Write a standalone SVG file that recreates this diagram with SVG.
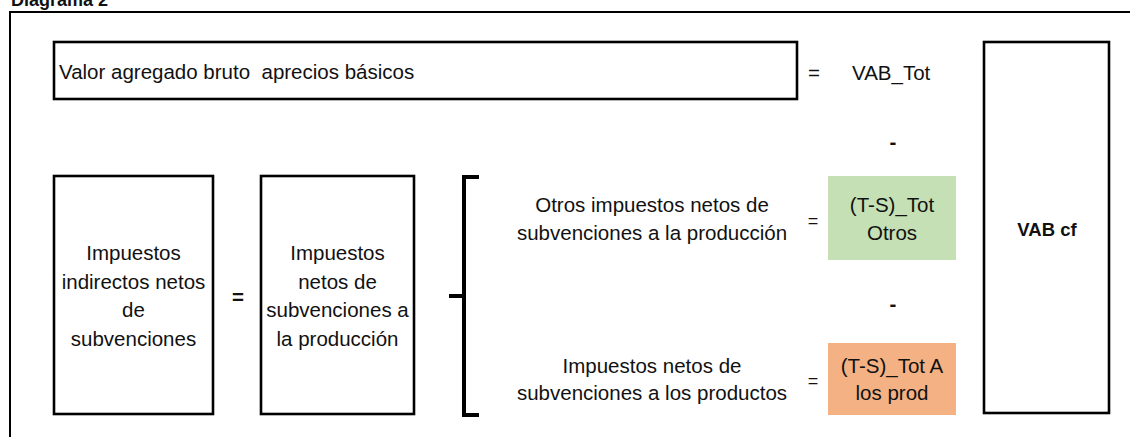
<svg xmlns="http://www.w3.org/2000/svg" width="1130" height="437" viewBox="0 0 1130 437">
<style>
.t{font-family:"Liberation Sans",Arial,sans-serif;font-size:20.5px;fill:#111}
.c{text-anchor:middle}
.b{font-weight:bold}
.box{fill:#fff;stroke:#000;stroke-width:2.6}
</style>
<rect width="1130" height="437" fill="#fff"/>
<text class="t b" x="11" y="6" style="font-size:18px">Diagrama 2</text>
<path d="M10,437 V12 H1130" fill="none" stroke="#000" stroke-width="2"/>

<g id="vab-pb">
<rect class="box" x="54" y="42" width="743" height="57"/>
<text class="t" x="59" y="79" xml:space="preserve">Valor agregado bruto  aprecios básicos</text>
</g>
<text class="t c" x="814" y="80">=</text>
<g id="vab-tot"><text class="t" x="852" y="80">VAB_Tot</text></g>
<text class="t c b" x="893" y="149">-</text>

<g id="vab-cf">
<rect class="box" x="984" y="42" width="125" height="371"/>
<text class="t c b" x="1047" y="236" style="font-size:18.5px">VAB cf</text>
</g>

<g id="imp-indirectos">
<rect class="box" x="54" y="176" width="159" height="238"/>
<text class="t c" x="133.5" y="260">Impuestos</text>
<text class="t c" x="133.5" y="288.5">indirectos netos</text>
<text class="t c" x="133.5" y="317">de</text>
<text class="t c" x="133.5" y="345.5">subvenciones</text>
</g>
<text class="t c b" x="238" y="304">=</text>
<g id="imp-produccion">
<rect class="box" x="261" y="176" width="153" height="238"/>
<text class="t c" x="337.5" y="260">Impuestos</text>
<text class="t c" x="337.5" y="288.5">netos de</text>
<text class="t c" x="337.5" y="317">subvenciones a</text>
<text class="t c" x="337.5" y="345.5">la producción</text>
</g>

<g id="connectors">
<path d="M479,177 H464 V415 H479 M449,296 H464" fill="none" stroke="#000" stroke-width="4"/>
</g>

<g id="otros">
<text class="t c" x="652" y="212">Otros impuestos netos de</text>
<text class="t c" x="652" y="240">subvenciones a la producción</text>
</g>
<text class="t c" x="813" y="227" style="font-size:18px">=</text>
<g id="ts-otros">
<rect x="828" y="176" width="128" height="84" fill="#c5e0b4"/>
<text class="t c" x="892" y="212">(T-S)_Tot</text>
<text class="t c" x="892" y="240">Otros</text>
</g>
<text class="t c b" x="893" y="311">-</text>

<g id="productos">
<text class="t c" x="652" y="373">Impuestos netos de</text>
<text class="t c" x="652" y="400">subvenciones a los productos</text>
</g>
<text class="t c" x="813" y="387" style="font-size:18px">=</text>
<g id="ts-prod">
<rect x="828" y="343" width="128" height="72" fill="#f4b183"/>
<text class="t c" x="892" y="373">(T-S)_Tot A</text>
<text class="t c" x="892" y="400">los prod</text>
</g>
</svg>
